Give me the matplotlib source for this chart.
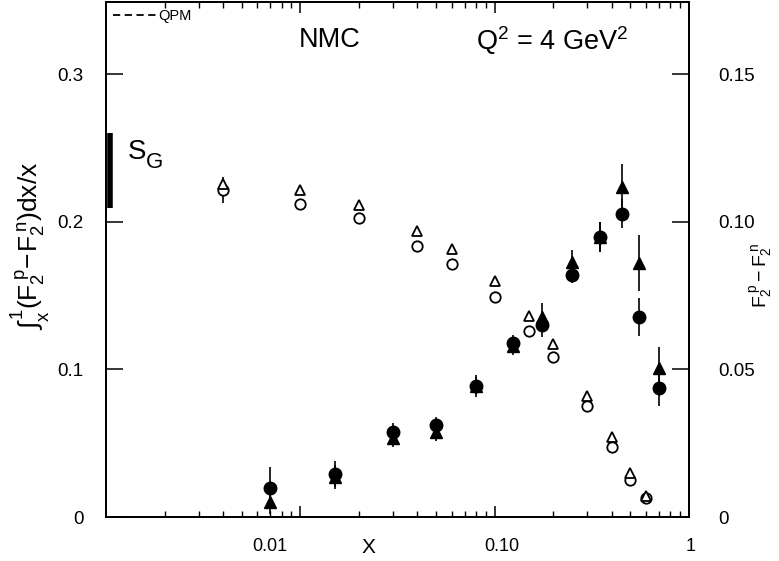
import matplotlib
matplotlib.use("Agg")
import matplotlib.pyplot as plt
import matplotlib.transforms as mtransforms
from matplotlib.ticker import FixedLocator, NullFormatter, LogLocator

plt.rcParams['font.family'] = ['Liberation Sans', 'DejaVu Sans']
plt.rcParams['mathtext.fontset'] = 'custom'
plt.rcParams['mathtext.rm'] = 'Liberation Sans'
plt.rcParams['mathtext.it'] = 'Liberation Sans'
plt.rcParams['mathtext.bf'] = 'Liberation Sans:bold'

# ---- data ----
x_open = [0.004, 0.01, 0.02, 0.04, 0.06, 0.1, 0.15, 0.2, 0.3, 0.4, 0.5, 0.6]
int_circle = [0.2216, 0.2122, 0.2027, 0.1838, 0.1716, 0.1493, 0.1257, 0.1081, 0.075, 0.0473, 0.025, 0.0128]
int_circle_err = [0.009, 0.001, 0.001, 0.001, 0.001, 0.001, 0.001, 0.001, 0.001, 0.001, 0.001, 0.001]
int_tri = [0.2257, 0.2216, 0.2115, 0.194, 0.1818, 0.1595, 0.1358, 0.1169, 0.0818, 0.054, 0.0297, 0.0145]

x_filled = [0.007, 0.015, 0.03, 0.05, 0.08, 0.125, 0.175, 0.25, 0.35, 0.45, 0.55, 0.7]
f2_circle = [0.0098, 0.0145, 0.0288, 0.031, 0.0443, 0.0588, 0.0649, 0.0821, 0.0949, 0.1027, 0.0676, 0.0436]
f2_circle_err = [0.007, 0.0045, 0.003, 0.003, 0.0037, 0.0027, 0.004, 0.003, 0.005, 0.005, 0.0064, 0.006]
f2_tri = [0.0051, 0.0135, 0.0267, 0.0288, 0.0445, 0.058, 0.0676, 0.0865, 0.0949, 0.1118, 0.0861, 0.0503]
f2_tri_err = [0.004, 0.004, 0.003, 0.003, 0.003, 0.003, 0.005, 0.004, 0.005, 0.0078, 0.0095, 0.0074]

sg_range = [0.209, 0.26]

x_ticks = [0.01, 0.1, 1]
x_ticklabels = ['0.01', '0.10', '1']
left_ticks = [0, 0.1, 0.2, 0.3]
left_ticklabels = ['0', '0.1', '0.2', '0.3']
right_ticks = [0, 0.05, 0.10, 0.15]
right_ticklabels = ['0', '0.05', '0.10', '0.15']

# ---- figure ----
fig = plt.figure(figsize=(7.79, 5.61), dpi=100)
ax = fig.add_axes([106/779, 44/561, 583/779, 0.997 - 44/561])
ax2 = ax.twinx()

ax.set_xscale('log')
ax.set_xlim(0.001, 1)
ax.set_ylim(0, 0.349)
ax2.set_ylim(0, 0.1745)

lw_sp = 1.3
for a in (ax, ax2):
    for s in a.spines.values():
        s.set_linewidth(lw_sp)

# x ticks
ax.xaxis.set_major_locator(FixedLocator(x_ticks))
ax.set_xticklabels(x_ticklabels)
ax.xaxis.set_minor_locator(LogLocator(base=10, subs=range(2, 10)))
ax.xaxis.set_minor_formatter(NullFormatter())
ax.tick_params(axis='x', which='major', direction='in', length=8, width=1.1,
               top=True, labelsize=13, pad=15)
ax.tick_params(axis='x', which='minor', direction='in', length=4, width=1.0, top=True)

# left y ticks
ax.set_yticks(left_ticks)
ax.set_yticklabels(left_ticklabels)
ax.tick_params(axis='y', which='major', direction='in', length=12, width=1.1,
               left=True, right=False, labelsize=13.5, pad=16)
# right y ticks
ax2.set_yticks(right_ticks)
ax2.set_yticklabels(right_ticklabels)
ax2.tick_params(axis='y', which='major', direction='in', length=12, width=1.1,
                labelsize=13.5, pad=21)

# shift x tick labels like reference
offsets = [-31, 7, 2]
for lab, dx in zip(ax.get_xticklabels(), offsets):
    lab.set_transform(lab.get_transform() + mtransforms.ScaledTranslation(dx/100, 0, fig.dpi_scale_trans))

# ---- data marks ----
ax.errorbar(x_open, int_circle, yerr=int_circle_err, fmt='o', ms=7.5, mfc='white', mec='black',
            mew=1.3, ecolor='black', elinewidth=1.2, capsize=0, zorder=3)
ax.plot(x_open, int_tri, linestyle='none', marker='^', ms=7.5, mfc='white', mec='black',
        mew=1.3, zorder=4)

ax2.errorbar(x_filled, f2_tri, yerr=f2_tri_err, fmt='^', ms=8, color='black',
             elinewidth=1.2, capsize=0, zorder=3)
ax2.errorbar(x_filled, f2_circle, yerr=f2_circle_err, fmt='o', ms=9, color='black',
             elinewidth=1.2, capsize=0, zorder=4)

# SG bar
ax.plot([0.007, 0.007], sg_range, color='black', lw=4, solid_capstyle='butt',
        transform=ax.get_yaxis_transform(), clip_on=False)
ax.text(0.037, 0.247, 'S', transform=ax.get_yaxis_transform(), fontsize=20,
        ha='left', va='center')
ax.text(0.068, 0.240, 'G', transform=ax.get_yaxis_transform(), fontsize=16,
        ha='left', va='center')

# QPM legend
ax.plot([], [], linestyle='--', color='black', lw=1.3, dashes=(4, 2.5), label='QPM')
leg = ax.legend(loc='upper left', bbox_to_anchor=(0.0, 1.0), frameon=False,
                fontsize=10.5, handlelength=3.0, handletextpad=0.1, borderaxespad=0.2,
                borderpad=0.3)

# annotations
ax.text(0.384, 0.925, 'NMC', transform=ax.transAxes, fontsize=19.5, ha='center', va='center')
ax.text(0.766, 0.925, r'Q$^2$ = 4 GeV$^2$', transform=ax.transAxes, fontsize=19.5,
        ha='center', va='center')

# axis labels
ax.set_xlabel('X', fontsize=15, va='center')
ax.xaxis.set_label_coords((368-106)/583, -31/517)
ax.set_ylabel(r'$\int_{x}^{1}(F_2^{\,p}\!-\!F_2^{\,n})dx/x$', fontsize=19, va='center')
ax.yaxis.set_label_coords(-(106-31)/583, (517-245)/517)
ax2.set_ylabel(r'$F_2^{\,p}-F_2^{\,n}$', fontsize=14, va='center', rotation=90)
ax2.yaxis.set_label_coords(1 + (761-689)/583, (517-275)/517)

fig.savefig('out.png', dpi=100)
